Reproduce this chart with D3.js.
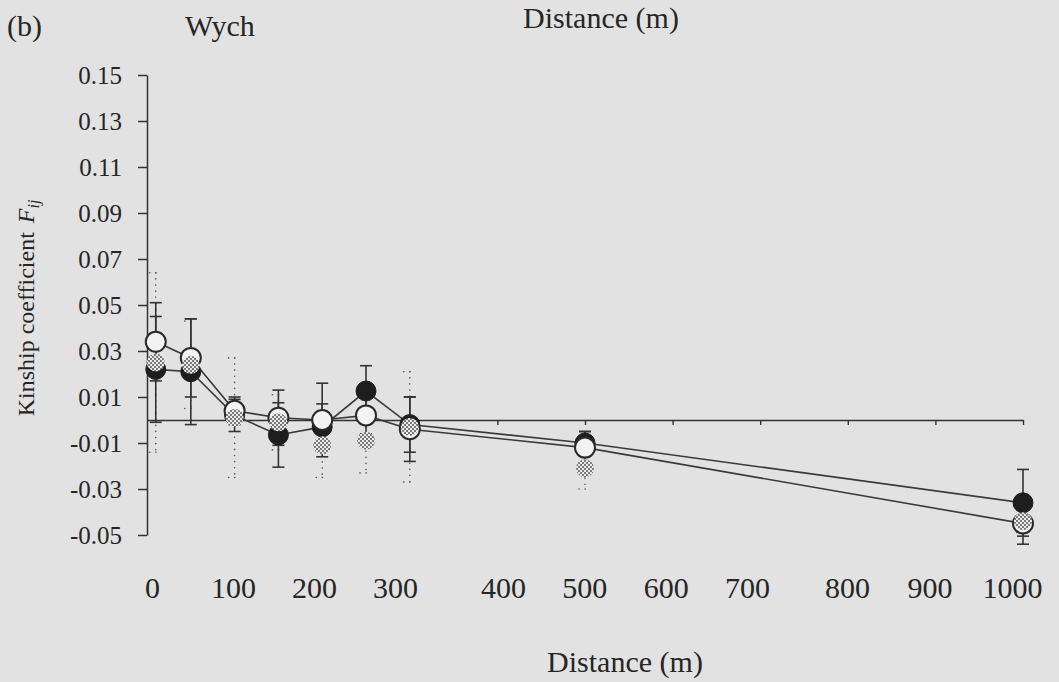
<!DOCTYPE html>
<html>
<head>
<meta charset="utf-8">
<script src="https://cdn.jsdelivr.net/npm/d3@7"></script>
<style>
  html, body { margin: 0; padding: 0; background: #e2e2e2; }
  svg { display: block; }
  text { font-family: "Times New Roman", Times, "Liberation Serif", "Nimbus Roman", "DejaVu Serif", serif; fill: #262626; }
</style>
</head>
<body>
<svg id="chart" width="1059" height="682"></svg>
<script>
// Distance classes (m)
const distances = [10, 50, 100, 150, 200, 250, 300, 500, 1000];

// Kinship coefficient Fij per distance class, three estimates
const fijOpen = [0.034, 0.027, 0.004, 0.001, 0.000, 0.002, -0.004, -0.012, -0.045];
const errOpen = [0.017, 0.017, 0.006, 0.012, 0.016, 0.008, 0.014, 0.007, 0.009];

const fijFilled = [0.022, 0.021, 0.002, -0.0065, -0.003, 0.0126, -0.002, -0.010, -0.036];
const errFilled = [0.023, 0.023, 0.007, 0.014, 0.010, 0.011, 0.012, 0.005, 0.0145];

const fijStippled = [0.025, 0.024, 0.001, -0.001, -0.011, -0.009, -0.003, -0.021, -0.044];
const errStippled = [0.039, 0.019, 0.026, 0.012, 0.014, 0.014, 0.024, 0.009, 0.005];

// Axis ticks
const yTicks = [0.15, 0.13, 0.11, 0.09, 0.07, 0.05, 0.03, 0.01, -0.01, -0.03, -0.05];
const zeroLineTicks = [100, 200, 300, 400, 500, 600, 700, 800, 900, 1000];
const xTickLabels = [0, 100, 200, 300, 400, 500, 600, 700, 800, 900, 1000];

const W = 1059, H = 682;
const serif = '"Times New Roman", Times, "Liberation Serif", serif';
const svg = d3.select("#chart");
svg.append("rect").attr("width", W).attr("height", H).attr("fill", "#e2e2e2");

const x = d3.scaleLinear().domain([0, 1000]).range([147, 1023]);
const y = d3.scaleLinear().domain([-0.05, 0.15]).range([535, 75]);
// label row is set in three spaced groups: 0-300, 400-700, 800-1000
const xLabel = d3.scaleLinear()
  .domain([0, 300, 400, 700, 800, 1000])
  .range([152, 395, 503, 747, 847, 1012]);

const ink = "#333";

// stipple fill
const defs = svg.append("defs");
const pat = defs.append("pattern")
  .attr("id", "stipple").attr("patternUnits", "userSpaceOnUse")
  .attr("width", 4).attr("height", 4);
pat.append("rect").attr("width", 4).attr("height", 4).attr("fill", "#e9e9e9");
pat.append("circle").attr("cx", 1).attr("cy", 1).attr("r", 1).attr("fill", "#555");
pat.append("circle").attr("cx", 3).attr("cy", 3).attr("r", 1).attr("fill", "#555");

// y axis
const yAxis = svg.append("g")
  .attr("transform", `translate(${x(0)},0)`)
  .call(d3.axisLeft(y).tickValues(yTicks).tickSize(9).tickSizeOuter(0)
    .tickPadding(16).tickFormat(d => d.toFixed(2)));
yAxis.selectAll("path, line").attr("stroke", ink).attr("stroke-width", 1.5);
yAxis.selectAll("text").attr("font-size", 25).attr("fill", "#262626")
  .attr("font-family", serif);

// zero reference line with 100 m ticks
const zeroAxis = svg.append("g")
  .attr("transform", `translate(0,${y(0)})`)
  .call(d3.axisBottom(x).tickValues(zeroLineTicks).tickSize(5).tickSizeOuter(0).tickFormat(""));
zeroAxis.selectAll("path, line").attr("stroke", ink).attr("stroke-width", 1.4);

// distance labels
const labelAxis = svg.append("g")
  .attr("transform", "translate(0,577)")
  .call(d3.axisBottom(xLabel).tickValues(xTickLabels).tickSize(0).tickPadding(0).tickFormat(d => d));
labelAxis.select(".domain").remove();
labelAxis.selectAll("text").attr("font-size", 30).attr("fill", "#262626")
  .attr("font-family", serif);

// connecting lines
const line = d3.line().x((d, i) => x(distances[i])).y(d => y(d));
[fijFilled, fijOpen].forEach(series => {
  svg.append("path").datum(series)
    .attr("d", line).attr("fill", "none")
    .attr("stroke", "#3a3a3a").attr("stroke-width", 1.6);
});

// error bars
function errorBars(values, errs, dotted) {
  const g = svg.append("g");
  const capW = 6;
  values.forEach((v, i) => {
    const cx = x(distances[i]);
    const top = y(v + errs[i]), bot = y(v - errs[i]);
    const segs = [
      [cx, top, cx, bot],
      [cx - capW, top, cx + capW, top],
      [cx - capW, bot, cx + capW, bot]
    ];
    segs.forEach(s => {
      const l = g.append("line")
        .attr("x1", s[0]).attr("y1", s[1]).attr("x2", s[2]).attr("y2", s[3]);
      if (dotted) {
        l.attr("stroke", "#5a5a5a").attr("stroke-width", 1.6)
          .attr("stroke-dasharray", "0.1 6").attr("stroke-linecap", "round");
      } else {
        l.attr("stroke", ink).attr("stroke-width", 1.6);
      }
    });
  });
}
errorBars(fijStippled, errStippled, true);
errorBars(fijFilled, errFilled, false);
errorBars(fijOpen, errOpen, false);

// markers
svg.append("g").selectAll("circle").data(fijFilled).join("circle")
  .attr("cx", (d, i) => x(distances[i])).attr("cy", d => y(d)).attr("r", 10)
  .attr("fill", "#1e1e1e").attr("stroke", "#1e1e1e").attr("stroke-width", 1);
svg.append("g").selectAll("circle").data(fijOpen).join("circle")
  .attr("cx", (d, i) => x(distances[i])).attr("cy", d => y(d)).attr("r", 10)
  .attr("fill", "#f3f3f3").attr("stroke", "#2a2a2a").attr("stroke-width", 2);
svg.append("g").selectAll("circle").data(fijStippled).join("circle")
  .attr("cx", (d, i) => x(distances[i])).attr("cy", d => y(d)).attr("r", 9)
  .attr("fill", "url(#stipple)");

// titles
svg.append("text").attr("x", 7).attr("y", 36).attr("font-size", 30).text("(b)");
svg.append("text").attr("x", 185).attr("y", 36).attr("font-size", 30).text("Wych");
svg.append("text").attr("x", 601).attr("y", 28).attr("font-size", 30)
  .attr("text-anchor", "middle").text("Distance (m)");
svg.append("text").attr("x", 625).attr("y", 672).attr("font-size", 30)
  .attr("text-anchor", "middle").text("Distance (m)");

const yTitle = svg.append("text")
  .attr("transform", "translate(34,308) rotate(-90)")
  .attr("text-anchor", "middle").attr("font-size", 24);
yTitle.append("tspan").text("Kinship coefficient");
yTitle.append("tspan").attr("dx", 9).attr("font-style", "italic").text("F");
yTitle.append("tspan").attr("font-style", "italic").attr("font-size", 16)
  .attr("dy", 5).text("ij");
</script>
</body>
</html>
